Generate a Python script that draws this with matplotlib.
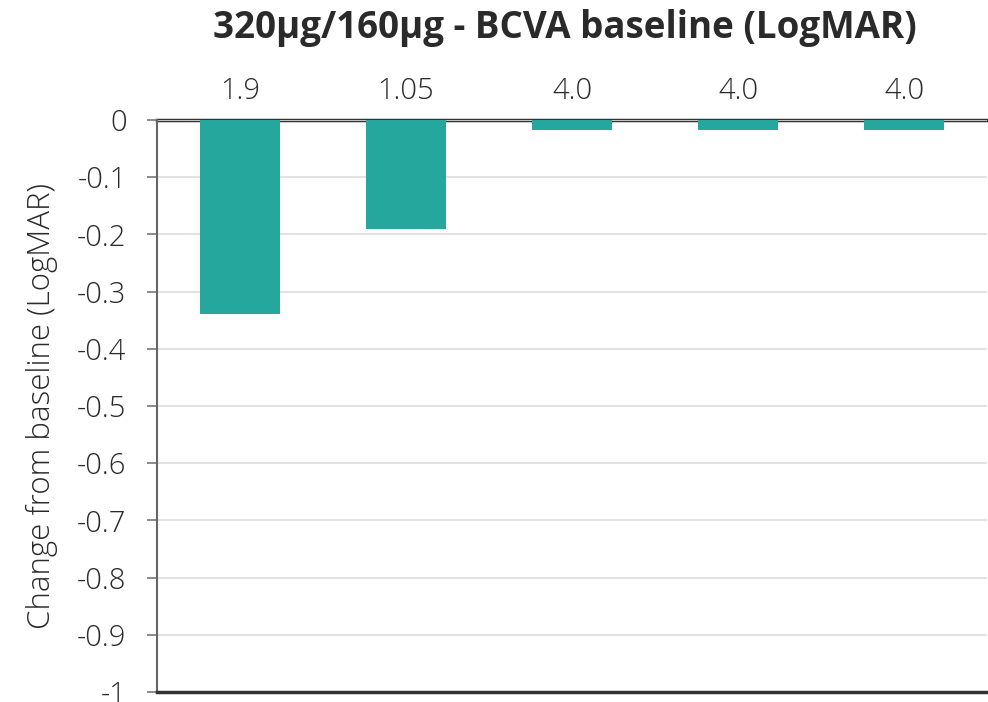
import matplotlib.pyplot as plt
import numpy as np

plt.rcParams['font.family'] = ['Open Sans', 'DejaVu Sans']

# baseline BCVA per eye and change from baseline (LogMAR)
baseline = ['1.9', '1.05', '4.0', '4.0', '4.0']
change = [-0.34, -0.19, -0.017, -0.017, -0.017]

teal = '#26a79d'

fig = plt.figure(figsize=(9.88, 7.02), dpi=100)
ax = fig.add_axes([0.159, 0.0142, 0.84, 0.815])

x = np.arange(len(baseline))
ax.bar(x, change, width=0.48, color=teal, zorder=2)

ax.set_xlim(-0.5, len(baseline) - 0.5)
ax.set_ylim(-1, 0)
ax.set_yticks(np.arange(-1, 0.01, 0.1))
ax.set_yticklabels(['-1', '-0.9', '-0.8', '-0.7', '-0.6', '-0.5', '-0.4', '-0.3', '-0.2', '-0.1', '0'])
ax.grid(axis='y', color='#dddddd', linewidth=1.2, zorder=0)

# baseline values shown above the zero line
ax.xaxis.tick_top()
ax.set_xticks(x)
ax.set_xticklabels(baseline)
ax.tick_params(axis='x', length=0, pad=10, labelsize=21, labelcolor='#2a2a2a')
ax.tick_params(axis='y', length=7, width=1.2, color='#777777', pad=15,
               labelsize=21, labelcolor='#2a2a2a')
for lab in ax.get_xticklabels() + ax.get_yticklabels():
    lab.set_fontweight('light')

ax.spines['right'].set_visible(False)
ax.spines['left'].set_color('#666666')
ax.spines['left'].set_linewidth(1.5)
ax.spines['top'].set_color('#333333')
ax.spines['top'].set_linewidth(2.5)
ax.spines['top'].set_zorder(1)
ax.spines['bottom'].set_color('#333333')
ax.spines['bottom'].set_linewidth(2.5)

ax.set_ylabel('Change from baseline (LogMAR)', fontsize=22.5, fontweight='light',
              color='#2a2a2a', labelpad=14)

fig.suptitle('320µg/160µg - BCVA baseline (LogMAR)', x=0.572, y=0.987,
             fontsize=26.5, fontweight='bold', color='#2a2a2a')

fig.savefig('out.png', dpi=100)
